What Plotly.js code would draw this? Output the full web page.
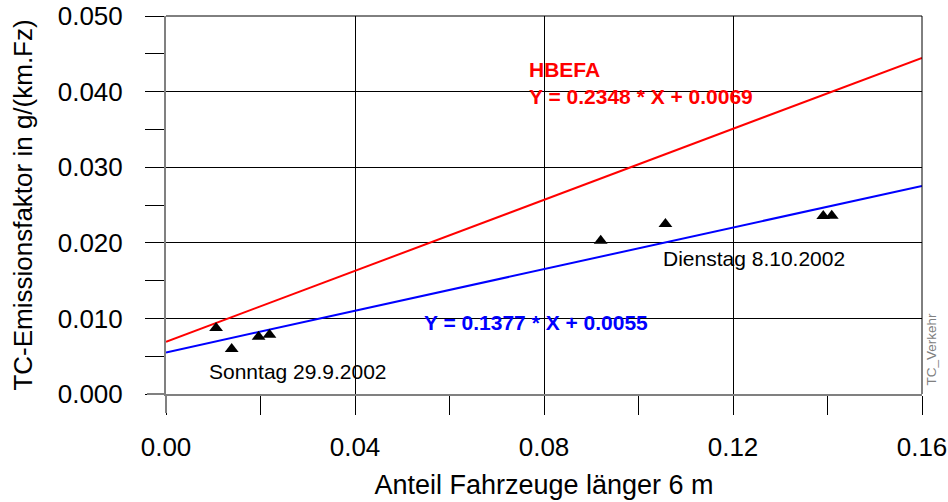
<!DOCTYPE html>
<html>
<head>
<meta charset="utf-8">
<script src="https://cdn.plot.ly/plotly-3.0.1.min.js"></script>
<style>html,body{margin:0;padding:0;background:#fff;}#chart{width:948px;height:502px;}</style>
</head>
<body>
<div id="chart"></div>
<script>
// Measured points: share of vehicles longer than 6 m vs TC emission factor
const pointsX = [0.0106, 0.0139, 0.0196, 0.0219, 0.0920, 0.1057, 0.1391, 0.1409];
const pointsY = [0.00873, 0.00595, 0.00758, 0.00784, 0.02028, 0.02249, 0.02354, 0.02359];

// Regression lines (end points over the x range)
const lineX = [0.0, 0.16];
const hbefaY = [0.0069, 0.044468];
const fitY = [0.0055, 0.027532];

// Axis ticks
const xTicks = [0.00, 0.04, 0.08, 0.12, 0.16];
const xTickLabels = ["0.00", "0.04", "0.08", "0.12", "0.16"];
const yTicks = [0.000, 0.010, 0.020, 0.030, 0.040, 0.050];
const yTickLabels = ["0.000", "0.010", "0.020", "0.030", "0.040", "0.050"];

const font = "Liberation Sans, Arial, sans-serif";

const traces = [
  {x: lineX, y: hbefaY, mode: "lines", line: {color: "#ff0000", width: 2}, hoverinfo: "skip"},
  {x: lineX, y: fitY, mode: "lines", line: {color: "#0000ff", width: 2}, hoverinfo: "skip"},
  {x: pointsX, y: pointsY, mode: "markers", marker: {symbol: "triangle-up", size: 12, color: "#000"}}
];

const layout = {
  width: 948, height: 502,
  margin: {l: 166, r: 26, t: 16, b: 108},
  showlegend: false,
  paper_bgcolor: "#fff", plot_bgcolor: "#fff",
  font: {family: font, color: "#000", size: 26},
  xaxis: {
    range: [0, 0.16], tickvals: xTicks, ticktext: xTickLabels,
    showgrid: true, gridcolor: "#000", gridwidth: 1,
    zeroline: false, showline: true, linecolor: "#808080", linewidth: 2,
    ticks: "outside", ticklen: 19, tickcolor: "#000", tickwidth: 1,
    ticklabelstandoff: 10,
    minor: {dtick: 0.02, ticks: "outside", ticklen: 19, tickcolor: "#000", showgrid: false},
    tickfont: {size: 26},
    title: {text: "Anteil Fahrzeuge länger 6 m", font: {size: 27}, standoff: 14}
  },
  yaxis: {
    range: [0, 0.05], tickvals: yTicks, ticktext: yTickLabels,
    showgrid: true, gridcolor: "#000", gridwidth: 1,
    zeroline: false, showline: true, linecolor: "#808080", linewidth: 2,
    ticks: "outside", ticklen: 19, tickcolor: "#000", tickwidth: 1,
    ticklabelstandoff: 17,
    minor: {dtick: 0.005, ticks: "outside", ticklen: 19, tickcolor: "#000", showgrid: false},
    tickfont: {size: 26},
    title: {text: "TC-Emissionsfaktor in g/(km.Fz)", font: {size: 26}, standoff: 18}
  },
  shapes: [
    {type: "line", xref: "paper", yref: "paper", x0: 0, x1: 1, y0: 1, y1: 1, line: {color: "#000", width: 1}},
    {type: "line", xref: "paper", yref: "paper", x0: 1, x1: 1, y0: 0, y1: 1, line: {color: "#000", width: 1}},
    {type: "line", xref: "paper", yref: "paper", x0: -0.0251, x1: 0, y0: 0, y1: 0, line: {color: "#808080", width: 2}},
    {type: "line", xref: "paper", yref: "paper", x0: 0, x1: 0, y0: -0.0503, y1: 0, line: {color: "#808080", width: 2}}
  ],
  annotations: [
    {x: 0.0765, y: 0.0411, xref: "x", yref: "y", xanchor: "left", yanchor: "middle", align: "left", showarrow: false,
     text: "<b>HBEFA<br>Y = 0.2348 * X + 0.0069</b>", font: {color: "#ff0000", size: 21}},
    {x: 0.0541, y: 0.0094, xref: "x", yref: "y", xanchor: "left", yanchor: "middle", showarrow: false,
     text: "<b>Y = 0.1377 * X + 0.0055</b>", font: {color: "#0000ff", size: 21}},
    {x: 0.0087, y: 0.0030, xref: "x", yref: "y", xanchor: "left", yanchor: "middle", showarrow: false,
     text: "Sonntag 29.9.2002", font: {size: 21}},
    {x: 0.1048, y: 0.01786, xref: "x", yref: "y", xanchor: "left", yanchor: "middle", showarrow: false,
     text: "Dienstag 8.10.2002", font: {size: 21}},
    {x: 1.012, y: 0.0059, xref: "paper", yref: "y", xanchor: "center", yanchor: "middle", showarrow: false,
     textangle: -90, text: "TC_Verkehr", font: {size: 13.5, color: "#808080"}}
  ]
};

Plotly.newPlot("chart", traces, layout, {displayModeBar: false, staticPlot: true});
</script>
</body>
</html>
